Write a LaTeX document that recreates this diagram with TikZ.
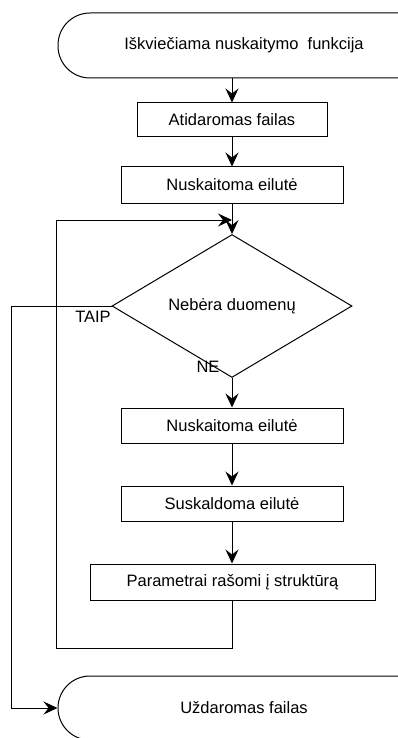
\documentclass[tikz,border=0pt]{standalone}
\usepackage{fontspec}
\setmainfont{Liberation Sans}
\usetikzlibrary{shapes.geometric,arrows.meta}
\begin{document}
\begin{tikzpicture}[x=1pt,y=-1pt,
  font=\fontsize{16.5}{20}\selectfont,
  line width=1pt,
  flow/.style={-{Stealth[length=14pt,width=13pt,inset=5pt]}},
  procbox/.style={draw,rectangle,inner sep=0pt,minimum height=35pt},
  term/.style={draw,rectangle,rounded corners=32pt,inner sep=0pt,minimum width=372pt},
  decide/.style={draw,diamond,inner sep=0pt,minimum width=240pt,minimum height=118pt}]
  \useasboundingbox (0,0) rectangle (398,738);

  % shapes
  \node[term,minimum height=65pt] (start) at (244,45.5) {Iškviečiama nuskaitymo\ \ funkcija};
  \node[procbox,minimum width=190pt,minimum height=34pt] (open) at (232,120) {Atidaromas failas};
  \node[procbox,minimum width=222pt,minimum height=36pt] (read1) at (232,185) {Nuskaitoma eilutė};
  \node[decide] (dec) at (232,306) {Nebėra duomenų};
  \node[procbox,minimum width=222pt] (read2) at (232,425.5) {Nuskaitoma eilutė};
  \node[procbox,minimum width=222pt] (split) at (232,503.5) {Suskaldoma eilutė};
  \node[procbox,minimum width=285pt,minimum height=36pt] (store) at (232.5,582) {Parametrai rašomi į struktūrą};
  \node[term,minimum height=64pt] (close) at (244,708) {Uždaromas failas};

  % branch labels
  \node (yes) at (93,317) {TAIP};
  \node (no) at (208,367) {NE};

  % helper points of the loop and exit routes
  \coordinate (join) at (232,220);
  \coordinate (loopbot) at (232,648);
  \coordinate (loopleft) at (56,648);
  \coordinate (exitleft) at (11,306);

  % connectors
  \draw[flow] (open.north |- start.south) -- (open.north);
  \draw[flow] (open.south) -- (read1.north);
  \draw[flow] (read1.south) -- (dec.north);
  \draw[flow] (dec.south) -- (read2.north);
  \draw[flow] (read2.south) -- (split.north);
  \draw[flow] (split.south) -- (store.north -| split.south);
  \draw (store.south -| join) -- (loopbot) -- (loopleft) -- (loopleft |- join);
  \draw[flow] (loopleft |- join) -- (join);
  \draw[flow] (dec.west) -- (exitleft) |- (close.west);
\end{tikzpicture}
\end{document}
